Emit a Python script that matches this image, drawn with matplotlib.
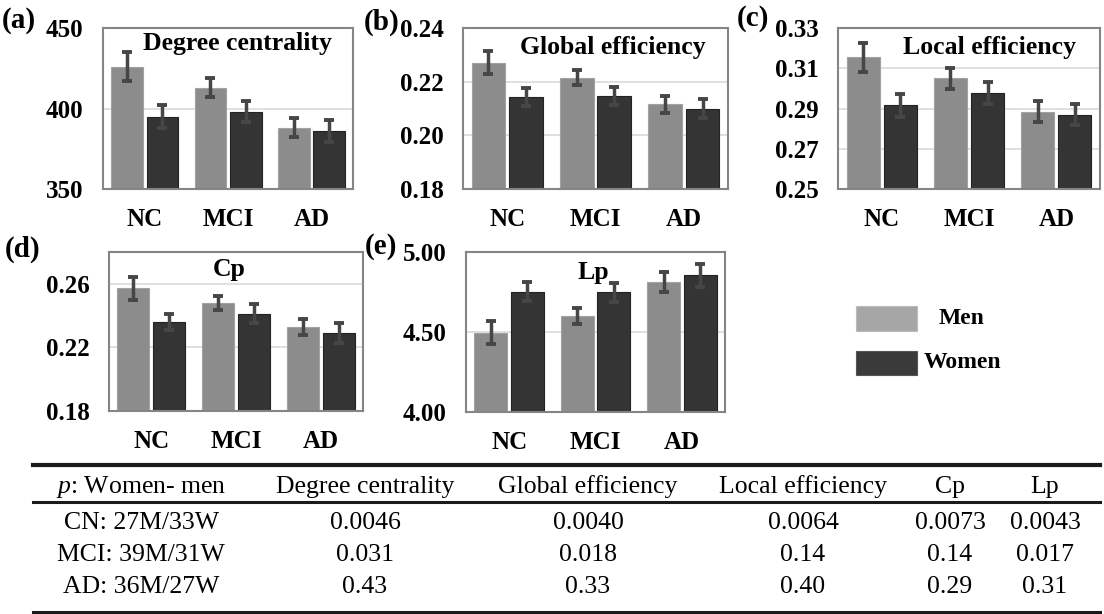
import numpy as np
import matplotlib
matplotlib.use('Agg')
import matplotlib.pyplot as plt
from matplotlib.lines import Line2D
from matplotlib.patches import Rectangle

# Groups and bar values (mean +/- error)
groups = ['NC', 'MCI', 'AD']

degree_men = [426, 413, 388]
degree_men_err = [9, 6, 6]
degree_women = [395, 398, 386]
degree_women_err = [7, 6.5, 7]

global_men = [0.2271, 0.2215, 0.2116]
global_men_err = [0.0042, 0.0029, 0.0032]
global_women = [0.2144, 0.2147, 0.2099]
global_women_err = [0.0033, 0.0033, 0.0036]

local_men = [0.3154, 0.3050, 0.2884]
local_men_err = [0.0072, 0.0051, 0.0052]
local_women = [0.2917, 0.2979, 0.2868]
local_women_err = [0.0057, 0.0055, 0.0052]

cp_men = [0.2573, 0.2480, 0.2330]
cp_men_err = [0.0072, 0.0045, 0.0050]
cp_women = [0.2361, 0.2413, 0.2289]
cp_women_err = [0.0052, 0.0062, 0.0063]

lp_men = [4.496, 4.600, 4.810]
lp_men_err = [0.070, 0.053, 0.062]
lp_women = [4.752, 4.748, 4.854]
lp_women_err = [0.060, 0.060, 0.070]

# p-value table
table_header = ['$p$: Women- men', 'Degree centrality', 'Global efficiency',
                'Local efficiency', 'Cp', 'Lp']
row_labels = ['CN: 27M/33W', 'MCI: 39M/31W', 'AD: 36M/27W']
p_cn = ['0.0046', '0.0040', '0.0064', '0.0073', '0.0043']
p_mci = ['0.031', '0.018', '0.14', '0.14', '0.017']
p_ad = ['0.43', '0.33', '0.40', '0.29', '0.31']

MEN_COLOR = '#8c8c8c'
WOMEN_COLOR = '#343434'
ERR_COLOR = '#464646'

W, H = 1104, 614

plt.rcParams['font.family'] = ['Liberation Serif', 'DejaVu Serif']
plt.rcParams['mathtext.fontset'] = 'custom'
plt.rcParams['mathtext.it'] = 'Liberation Serif:italic'
plt.rcParams['mathtext.rm'] = 'Liberation Serif'

fig = plt.figure(figsize=(W / 100, H / 100), dpi=100)


def px_axes(left, right, top, bottom):
    # pixel box -> figure fraction
    return fig.add_axes([left / W, 1 - bottom / H, (right - left) / W, (bottom - top) / H])


# Function to draw one panel of grouped bars
def bar_panel(box, men, men_err, women, women_err, ylim, ticks, fmt,
              title, title_pos, label, label_pos):
    ax = px_axes(*box)
    x = np.arange(len(groups))
    width = 0.38
    off = 0.212
    err_kw = dict(ecolor=ERR_COLOR, elinewidth=2.5, capsize=3.6, capthick=2.8)
    ax.bar(x - off, men, width, yerr=men_err, color=MEN_COLOR,
           edgecolor='#a2a2a2', linewidth=0.8, error_kw=err_kw, zorder=2)
    ax.bar(x + off, women, width, yerr=women_err, color=WOMEN_COLOR,
           edgecolor='#222222', linewidth=0.8, error_kw=err_kw, zorder=2)
    ax.set_xlim(-0.5, len(groups) - 0.5)
    ax.set_ylim(*ylim)
    ax.set_yticks(ticks)
    ax.set_yticklabels([fmt % t for t in ticks])
    ax.set_xticks(x)
    ax.set_xticklabels(groups)
    ax.tick_params(length=0, labelsize=18, pad=14)
    for t in ax.get_xticklabels() + ax.get_yticklabels():
        t.set_fontweight('bold')
    # light grid lines at the inner ticks
    for t in ticks[1:-1] if ticks[-1] >= ylim[1] - 1e-9 else ticks[1:]:
        ax.axhline(t, color='#dadada', linewidth=1.2, zorder=1)
    for s in ax.spines.values():
        s.set_color('#858585')
        s.set_linewidth(1.5)
    ax.text(title_pos[0], title_pos[1], title, transform=ax.transAxes,
            ha='center', va='center', fontsize=18.5, fontweight='bold', zorder=3)
    fig.text(label_pos[0] / W, 1 - label_pos[1] / H, label, ha='left', va='center',
             fontsize=21, fontweight='bold')
    return ax


bar_panel((103, 353, 28, 189), degree_men, degree_men_err, degree_women, degree_women_err,
          (350, 450), [350, 400, 450], '%d', 'Degree centrality', (0.536, 0.905),
          '(a)', (2, 20))
bar_panel((463, 728, 28, 189), global_men, global_men_err, global_women, global_women_err,
          (0.18, 0.24), [0.18, 0.20, 0.22, 0.24], '%.2f', 'Global efficiency', (0.566, 0.876),
          '(b)', (364, 22))
bar_panel((838, 1100, 28, 189), local_men, local_men_err, local_women, local_women_err,
          (0.25, 0.33), [0.25, 0.27, 0.29, 0.31, 0.33], '%.2f', 'Local efficiency', (0.58, 0.876),
          '(c)', (737, 19))
bar_panel((109, 363, 252, 411), cp_men, cp_men_err, cp_women, cp_women_err,
          (0.18, 0.28), [0.18, 0.22, 0.26], '%.2f', 'Cp', (0.472, 0.887),
          '(d)', (5, 249))
bar_panel((466, 725, 252, 412), lp_men, lp_men_err, lp_women, lp_women_err,
          (4.0, 5.0), [4.0, 4.5, 5.0], '%.2f', 'Lp', (0.49, 0.874),
          '(e)', (365, 246))

# legend drawn by hand
fig.add_artist(Rectangle((856 / W, 1 - 331 / H), 61 / W, 25 / H,
                         facecolor='#a6a6a6', edgecolor='#bcbcbc', linewidth=0.8,
                         transform=fig.transFigure))
fig.add_artist(Rectangle((856 / W, 1 - 375 / H), 61 / W, 24 / H,
                         facecolor='#3a3a3a', edgecolor='#555555', linewidth=0.8,
                         transform=fig.transFigure))
fig.text(962 / W, 1 - 319 / H, 'Men', ha='center', va='center', fontsize=17, fontweight='bold')
fig.text(962 / W, 1 - 363 / H, 'Women', ha='center', va='center', fontsize=17, fontweight='bold')

# table of p values
col_x = [141, 365, 588, 803, 950, 1045]
row_y = [523, 555, 587]
for cx, h in zip(col_x, table_header):
    fig.text(cx / W, 1 - 487 / H, h, ha='center', va='center', fontsize=18.5)
for ry, lab, vals in zip(row_y, row_labels, [p_cn, p_mci, p_ad]):
    fig.text(col_x[0] / W, 1 - ry / H, lab, ha='center', va='center', fontsize=18.5)
    for cx, v in zip(col_x[1:], vals):
        fig.text(cx / W, 1 - ry / H, v, ha='center', va='center', fontsize=18.5)

for y, lw in [(465, 3.0), (502, 2.2), (612, 2.2)]:
    fig.add_artist(Line2D([33 / W, 1100 / W], [1 - y / H, 1 - y / H], color='#1a1a1a',
                          linewidth=lw, transform=fig.transFigure))

fig.savefig('out.png', dpi=100)
